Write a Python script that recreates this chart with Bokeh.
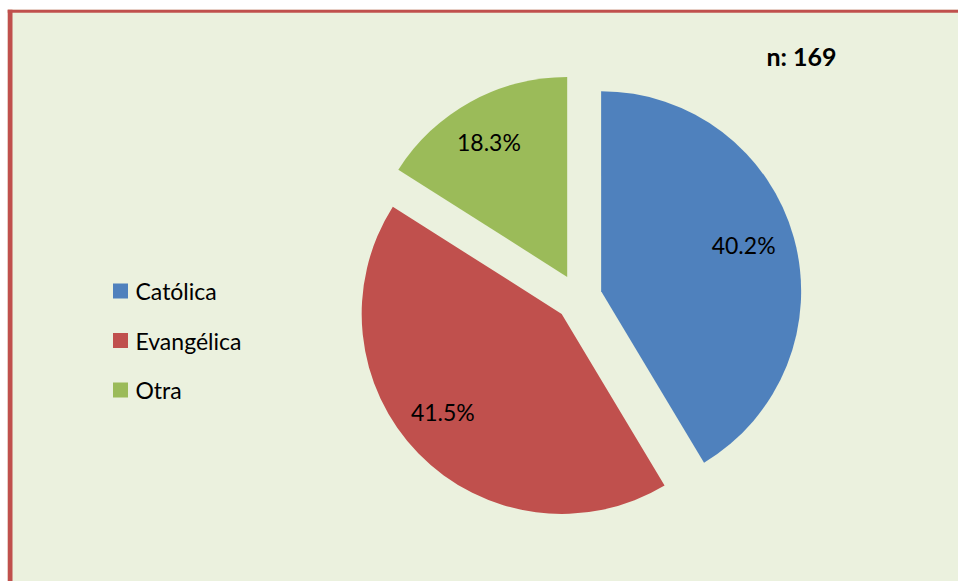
import math
from bokeh.plotting import figure
from bokeh.models import Range1d, ColumnDataSource
from bokeh.core.properties import value
from bokeh.embed import file_html
from bokeh.resources import INLINE

# ---- data ----
categories = ["Católica", "Evangélica", "Otra"]
shares = [41.4, 42.6, 16.0]          # wedge sizes as drawn (percent of circle)
label_texts = ["40.2%", "41.5%", "18.3%"]
colors = ["#4F81BD", "#C0504D", "#9BBB59"]
sample_note = "n: 169"

# ---- layout ----
W, H = 958, 581
LEFT, TOP = 7, 9
BG = "#EBF1DE"
BORDER = "#C0504D"
FONT = "Lato"


def fx(x):
    return x


def fy(y):
    return H - y


CX, CY = fx(578), fy(297)
R = 200
EXPLODE = 23.5
LABEL_R = 0.76 * R
LABEL_NUDGE = [(-4, 6), (-10, 8), (-5, 2)]   # small placement tweaks (px)

total = sum(shares)
cum = 0.0
xs, ys, starts, ends, lx, ly = [], [], [], [], [], []
for i, s in enumerate(shares):
    t0 = 2 * math.pi * cum / total
    t1 = 2 * math.pi * (cum + s) / total
    tm = (t0 + t1) / 2
    ox = CX + EXPLODE * math.sin(tm)
    oy = CY + EXPLODE * math.cos(tm)
    xs.append(ox)
    ys.append(oy)
    starts.append(math.pi / 2 - t0)
    ends.append(math.pi / 2 - t1)
    lx.append(ox + LABEL_R * math.sin(tm) + LABEL_NUDGE[i][0])
    ly.append(oy + LABEL_R * math.cos(tm) + LABEL_NUDGE[i][1])
    cum += s

src = ColumnDataSource(dict(x=xs, y=ys, start=starts, end=ends, color=colors,
                            cat=categories, lx=lx, ly=ly, lab=label_texts))

p = figure(width=W, height=H, x_range=Range1d(LEFT, W), y_range=Range1d(0, H - TOP),
           output_backend="svg", toolbar_location=None,
           min_border_left=LEFT, min_border_top=TOP, min_border_right=0, min_border_bottom=0,
           x_axis_location=None, y_axis_location=None,
           background_fill_color=BG, border_fill_color="white", outline_line_color=None)
p.grid.visible = False

# frame border (left and top edges of the chart box)
p.quad(left=[fx(LEFT)], right=[fx(12)], bottom=[0], top=[H - TOP],
       fill_color=BORDER, line_color=None)
p.quad(left=[fx(LEFT)], right=[fx(W)], bottom=[fy(12.3)], top=[H - TOP],
       fill_color=BORDER, line_color=None)

p.wedge(x="x", y="y", radius=R, start_angle="start", end_angle="end",
        direction="clock", fill_color="color", line_color=None, source=src)

p.text(x="lx", y="ly", text="lab", source=src, text_align="center",
       text_baseline="middle", text_font=value(FONT), text_font_size="23px",
       text_color="black")

# legend drawn manually
LEG_X = fx(120)
LEG_Y0 = fy(290.5)
LEG_STEP = 49.5
leg_y = [LEG_Y0 - i * LEG_STEP for i in range(len(categories))]
p.scatter(x=[LEG_X] * len(categories), y=leg_y, marker="square", size=15,
          fill_color=colors, line_color=None)
p.text(x=[LEG_X + 15] * len(categories), y=leg_y, text=categories,
       text_align="left", text_baseline="middle", text_font=value(FONT),
       text_font_size="23px", text_color="black")

p.text(x=[fx(801)], y=[fy(55)], text=[sample_note], text_align="center",
       text_baseline="middle", text_font=value(FONT), text_font_size="25px",
       text_font_style="bold", text_color="black")

open("out.html", "w").write(file_html(p, INLINE))
